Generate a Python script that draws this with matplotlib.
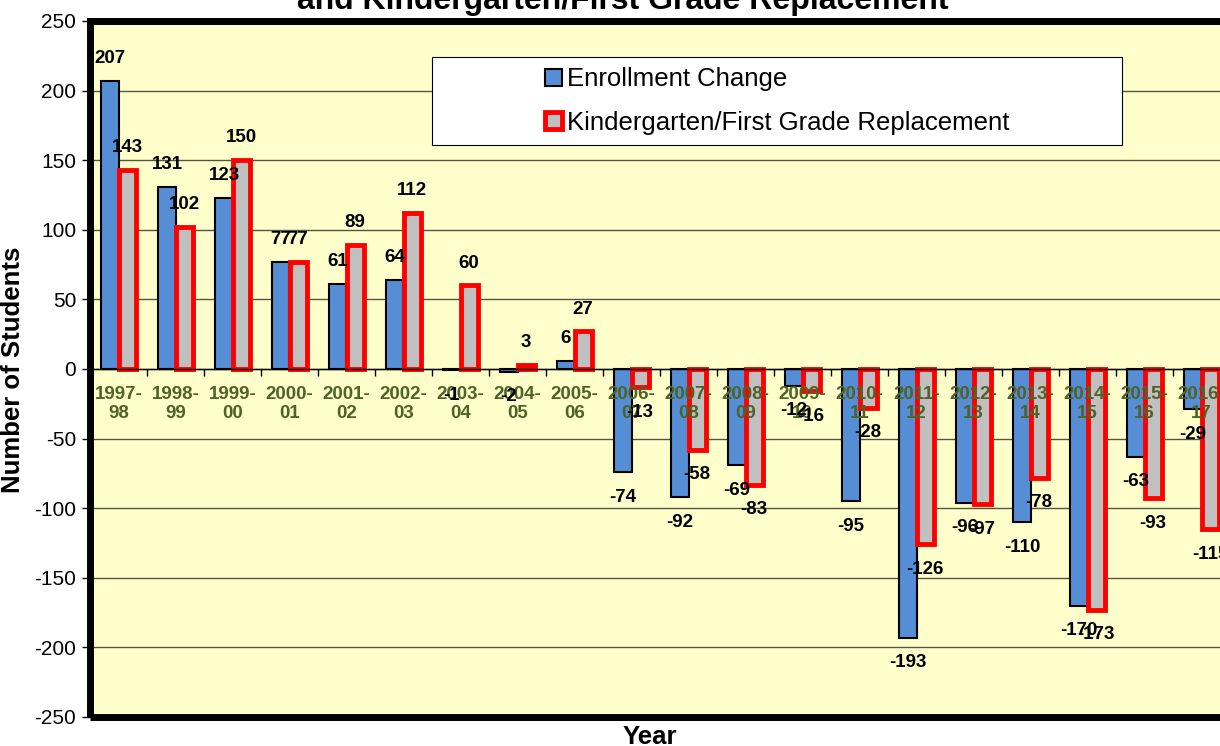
import numpy as np
import matplotlib.pyplot as plt
from matplotlib.patches import Rectangle

plt.rcParams['font.family'] = ['Liberation Sans', 'DejaVu Sans']
plt.rcParams['axes.unicode_minus'] = False

# data
years = ['1997-\n98', '1998-\n99', '1999-\n00', '2000-\n01', '2001-\n02',
         '2002-\n03', '2003-\n04', '2004-\n05', '2005-\n06', '2006-\n07',
         '2007-\n08', '2008-\n09', '2009-\n10', '2010-\n11', '2011-\n12',
         '2012-\n13', '2013-\n14', '2014-\n15', '2015-\n16', '2016-\n17']
enrollment = [207, 131, 123, 77, 61, 64, -1, -2, 6, -74,
              -92, -69, -12, -95, -193, -96, -110, -170, -63, -29]
replacement = [143, 102, 150, 77, 89, 112, 60, 3, 27, -13,
               -58, -83, -16, -28, -126, -97, -78, -173, -93, -115]

fig = plt.figure(figsize=(12.2, 7.46), dpi=100)
ax = fig.add_axes([90/1220, 29/746, 1197/1220, 696/746])
ax.set_facecolor('#FFFFCC')

x = np.arange(len(years))
w = 0.3
ax.bar(x - w/2, enrollment, w, color='#558ED5', edgecolor='black',
       linewidth=1.5, label='Enrollment Change', zorder=1)
ax.bar(x + w/2, replacement, w, color='#C0C0C0', edgecolor='red',
       linewidth=3.5, label='Kindergarten/First Grade Replacement', zorder=1)

ax.set_xlim(-0.5, 20.5)
ax.set_ylim(-250, 250)

# y axis
yt = np.arange(-250, 251, 50)
ax.set_yticks(yt)
ax.tick_params(axis='y', labelsize=15, length=6, width=1, pad=4)
for v in yt:
    ax.axhline(v, color='#55553f', lw=1, zorder=0.5)

# x axis at zero, labels just under it
ax.spines['bottom'].set_position(('data', 0))
ax.spines['bottom'].set_linewidth(1)
for s in ['top', 'right', 'left']:
    ax.spines[s].set_visible(False)
ax.set_xticks(np.arange(-0.5, 20.5, 1))
ax.set_xticklabels([])
ax.set_xticks(x, minor=True)
ax.set_xticklabels(years, minor=True)
ax.tick_params(axis='x', which='major', length=5, width=1, direction='out')
ax.tick_params(axis='x', which='minor', length=0, pad=12, labelsize=13.5,
               labelcolor='#4F6228')
for lbl in ax.get_xticklabels(minor=True):
    lbl.set_fontweight('bold')

# data labels
for xs, vals in [(x - w/2, enrollment), (x + w/2, replacement)]:
    for xi, v in zip(xs, vals):
        ax.annotate(str(v), (xi, v), xytext=(0, 16 if v >= 0 else -18),
                    textcoords='offset points', ha='center', va='center',
                    fontsize=13.5, fontweight='bold', zorder=4,
                    annotation_clip=False)

# thick frame
ax.add_patch(Rectangle((0, 0), 1, 1, transform=ax.transAxes, fill=False,
                       lw=5, edgecolor='black', zorder=6, clip_on=False))

# legend
lx, ly, lw_, lh = 0.2857, 0.822, 0.5765, 0.126
ax.add_patch(Rectangle((lx, ly), lw_, lh, transform=ax.transAxes,
                       facecolor='white', edgecolor='black', lw=0.8, zorder=4))
leg = ax.legend(loc='center', bbox_to_anchor=(lx + lw_/2, ly + lh/2),
                frameon=False, fontsize=18.5, handlelength=0.65, handleheight=0.65,
                handletextpad=0.2, labelspacing=0.75)
leg.set_zorder(5)

ax.set_ylabel('Number of Students', fontsize=18.5, fontweight='bold')
ax.yaxis.set_label_coords(-0.0543, 0.4986)
fig.text(650/1220, 1 - 737/746, 'Year', ha='center', va='center',
         fontsize=18.5, fontweight='bold')
fig.text(623/1220, 1 - 9/746, 'and Kindergarten/First Grade Replacement',
         ha='center', va='baseline', fontsize=23, fontweight='bold')

plt.savefig('out.png', dpi=100)
